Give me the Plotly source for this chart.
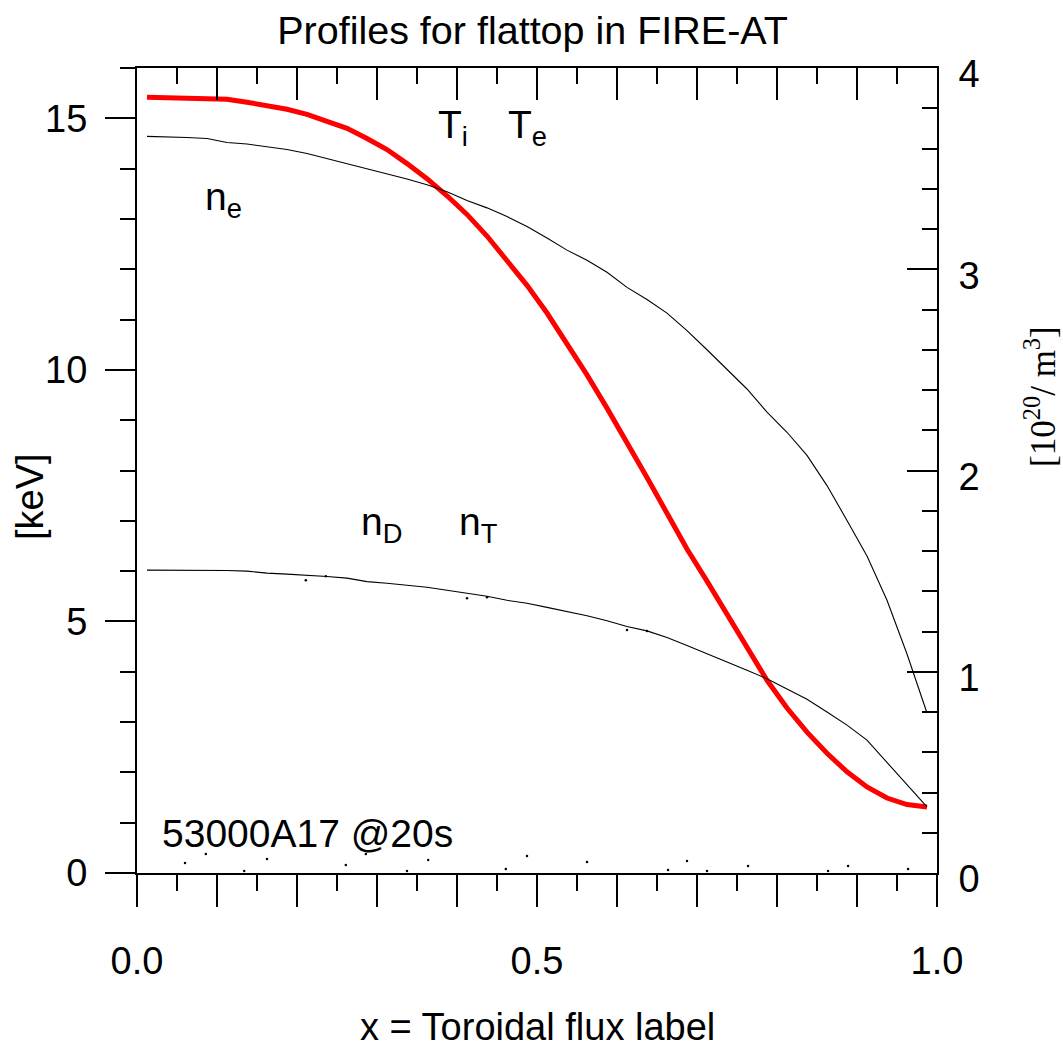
import plotly.graph_objects as go

# Radial grid (toroidal flux label, cell centres)
x_grid = [0.0125, 0.0375, 0.0625, 0.0875, 0.1125, 0.1375, 0.1625, 0.1875, 0.2125, 0.2375,
          0.2625, 0.2875, 0.3125, 0.3375, 0.3625, 0.3875, 0.4125, 0.4375, 0.4625, 0.4875,
          0.5125, 0.5375, 0.5625, 0.5875, 0.6125, 0.6375, 0.6625, 0.6875, 0.7125, 0.7375,
          0.7625, 0.7875, 0.8125, 0.8375, 0.8625, 0.8875, 0.9125, 0.9375, 0.9625, 0.9875]

# Ion / electron temperature [keV]
t_kev = [15.42, 15.41, 15.40, 15.39, 15.38, 15.32, 15.26, 15.18, 15.08, 14.95,
         14.80, 14.60, 14.38, 14.10, 13.80, 13.46, 13.09, 12.66, 12.18, 11.68,
         11.13, 10.52, 9.90, 9.24, 8.56, 7.86, 7.15, 6.44, 5.80, 5.14,
         4.48, 3.83, 3.28, 2.80, 2.38, 2.01, 1.71, 1.49, 1.36, 1.31]

# Electron density [1e20 m^-3]
n_e = [3.660, 3.658, 3.655, 3.650, 3.630, 3.622, 3.610, 3.595, 3.575, 3.550,
       3.525, 3.500, 3.475, 3.448, 3.420, 3.385, 3.342, 3.305, 3.262, 3.212,
       3.155, 3.095, 3.045, 2.985, 2.910, 2.850, 2.782, 2.695, 2.600, 2.500,
       2.405, 2.290, 2.190, 2.075, 1.925, 1.752, 1.575, 1.355, 1.088, 0.795]

# Deuterium density [1e20 m^-3]
n_d = [1.505, 1.505, 1.505, 1.505, 1.503, 1.500, 1.490, 1.485, 1.480, 1.473,
       1.465, 1.448, 1.440, 1.430, 1.420, 1.405, 1.390, 1.375, 1.355, 1.340,
       1.320, 1.300, 1.278, 1.253, 1.225, 1.203, 1.170, 1.130, 1.090, 1.048,
       1.008, 0.965, 0.915, 0.863, 0.800, 0.735, 0.660, 0.550, 0.440, 0.328]

# Tritium density samples that sit just off the deuterium curve [1e20 m^-3]
x_nt = [0.211, 0.236, 0.4125, 0.4375, 0.6125, 0.6375]
n_t = [1.455, 1.475, 1.365, 1.370, 1.208, 1.203]

# Small near-zero profile samples [keV]
x_small = [0.060, 0.086, 0.134, 0.1625, 0.261, 0.286, 0.3375, 0.364, 0.461, 0.4875,
           0.5625, 0.6638, 0.6875, 0.7125, 0.7638, 0.8638, 0.8888, 0.9638]
small_kev = [0.20, 0.38, 0.04, 0.28, 0.16, 0.38, 0.04, 0.26, 0.08, 0.34,
             0.22, 0.06, 0.24, 0.04, 0.14, 0.04, 0.14, 0.08]

# Axis ticks
x_major = [0.0, 0.1, 0.2, 0.3, 0.4, 0.5, 0.6, 0.7, 0.8, 0.9, 1.0]
x_major_text = ["0.0", "", "", "", "", "0.5", "", "", "", "", "1.0"]
x_minor = [0.05, 0.15, 0.25, 0.35, 0.45, 0.55, 0.65, 0.75, 0.85, 0.95]

SANS = "Liberation Sans, Arial, Helvetica, sans-serif"
SERIF = "Liberation Serif, Times New Roman, serif"
FS = 38

fig = go.Figure()

fig.add_trace(go.Scatter(x=x_grid, y=n_e, mode="lines", xaxis="x", yaxis="y2",
                         line=dict(color="black", width=1.1), name="n_e"))
fig.add_trace(go.Scatter(x=x_grid, y=n_d, mode="lines", xaxis="x", yaxis="y2",
                         line=dict(color="black", width=1.1), name="n_D"))
fig.add_trace(go.Scatter(x=x_nt, y=n_t, mode="markers", xaxis="x", yaxis="y2",
                         cliponaxis=False, marker=dict(color="black", size=2.5), name="n_T"))
fig.add_trace(go.Scatter(x=x_grid, y=t_kev, mode="lines", xaxis="x", yaxis="y",
                         line=dict(color="#ff0000", width=5), name="T"))
fig.add_trace(go.Scatter(x=x_small, y=small_kev, mode="markers", xaxis="x2", yaxis="y",
                         cliponaxis=False, marker=dict(color="black", size=2.5), name="small"))

tick_common = dict(tickcolor="black", tickwidth=1.6, showline=True, linecolor="black",
                   linewidth=2, showgrid=False, zeroline=False)

fig.update_layout(
    width=1063, height=1054,
    margin=dict(l=137, r=126, t=68, b=181),
    paper_bgcolor="white", plot_bgcolor="white",
    showlegend=False,
    font=dict(family=SANS, size=FS, color="black"),
    title=dict(text="Profiles for flattop in FIRE-AT", x=0.501, y=1 - 30 / 1054,
               xanchor="center", yanchor="middle", font=dict(size=39.5)),
    xaxis=dict(range=[0, 1], tickmode="array", tickvals=x_major, ticktext=x_major_text,
               ticks="outside", ticklen=32, ticklabelstandoff=21,
               minor=dict(tickmode="array", tickvals=x_minor, ticks="outside", ticklen=16,
                          tickcolor="black", tickwidth=1.6),
               **tick_common),
    xaxis2=dict(range=[0, 1], overlaying="x", side="top", anchor="y",
                tickmode="array", tickvals=x_major, ticks="inside", ticklen=32,
                showticklabels=False,
                minor=dict(tickmode="array", tickvals=x_minor, ticks="inside", ticklen=16,
                           tickcolor="black", tickwidth=1.6),
                **tick_common),
    yaxis=dict(range=[0, 16], tickmode="linear", tick0=0, dtick=5,
               ticks="outside", ticklen=30, ticklabelstandoff=10,
               minor=dict(dtick=1, ticks="outside", ticklen=15,
                          tickcolor="black", tickwidth=1.6),
               **tick_common),
    yaxis2=dict(range=[0, 4], overlaying="y", side="right", anchor="x",
                tickmode="linear", tick0=0, dtick=1,
                ticks="inside", ticklen=30, ticklabelstandoff=12, ticklabelshift=6,
                minor=dict(dtick=0.2, ticks="inside", ticklen=15,
                           tickcolor="black", tickwidth=1.6),
                **tick_common),
)

# Axis titles
fig.add_annotation(text="x = Toroidal flux label", xref="paper", yref="paper",
                   x=0.5, y=-(1027 - 873) / 805, xanchor="center", yanchor="middle",
                   showarrow=False, font=dict(size=FS))
fig.add_annotation(text="[keV]", xref="paper", yref="paper",
                   x=-(137 - 30) / 800, y=(873 - 497) / 805, xanchor="center", yanchor="middle",
                   textangle=-90, showarrow=False, font=dict(size=FS))
fig.add_annotation(text="[10<sup>20</sup>/ m<sup>3</sup>]", xref="paper", yref="paper",
                   x=1 + (1040 - 937) / 800, y=(873 - 397) / 805,
                   xanchor="center", yanchor="middle",
                   textangle=-90, showarrow=False, font=dict(family=SERIF, size=35))

# Curve labels
labels = [
    ("T<sub>i</sub>", 0.374, 14.82),
    ("T<sub>e</sub>", 0.461, 14.82),
    ("n<sub>e</sub>", 0.082, 13.39),
    ("n<sub>D</sub>", 0.278, 6.93),
    ("n<sub>T</sub>", 0.400, 6.93),
    ("53000A17 @20s", 0.029, 0.79),
]
for txt, lx, ly in labels:
    fig.add_annotation(text=txt, x=lx, y=ly, xref="x", yref="y",
                       xanchor="left", yanchor="middle", showarrow=False,
                       font=dict(size=FS + 1))

fig.write_html("out.html")
